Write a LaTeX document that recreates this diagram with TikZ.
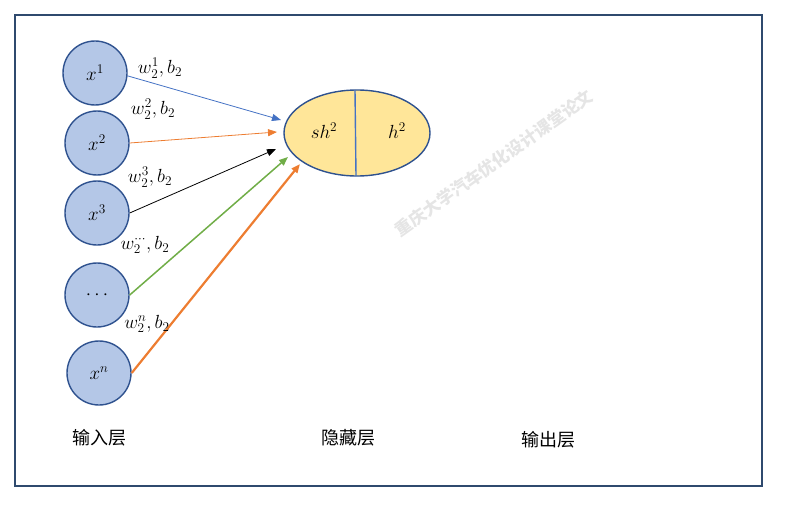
\RequirePackage{fix-cm}
\documentclass[tikz,border=0pt]{standalone}
\usepackage{fontspec}
\newfontfamily\cjk{Noto Sans CJK SC}
\usetikzlibrary{arrows.meta, positioning}
\definecolor{frameblue}{HTML}{2F4A6E}
\definecolor{nodeedge}{HTML}{2F528F}
\definecolor{nodefill}{HTML}{B4C7E7}
\definecolor{hidfill}{HTML}{FFE699}
\definecolor{ablue}{HTML}{4472C4}
\definecolor{aorange}{HTML}{ED7D31}
\definecolor{agreen}{HTML}{70AD47}
\tikzset{
  innode/.style = {circle, draw=nodeedge, line width=1.4pt, fill=nodefill, minimum size=64pt, inner sep=0pt, font=\fontsize{19}{21}\selectfont},
  wlabel/.style = {font=\fontsize{19}{21}\selectfont, inner sep=0pt},
  layer/.style = {font=\cjk\fontsize{18}{21}\selectfont},
  conn/.style = {-{Triangle[length=9pt, width=7pt]}},
}
\begin{document}
\begin{tikzpicture}[x=1pt, y=-1pt]
\useasboundingbox (0, 0) rectangle (789, 508);
\draw[frameblue, line width=1.2pt] (15, 15) rectangle (762, 486);
% watermark
\node[text=gray!20, rotate=35.5, font=\cjk\bfseries\fontsize{17}{20}\selectfont] at (494, 163) {重庆大学汽车优化设计课堂论文};
% input layer
\node[innode] (x1) at (95, 73) {$x^1$};
\node[innode] (x2) at (97, 143) {$x^2$};
\node[innode] (x3) at (97, 213) {$x^3$};
\node[innode] (xd) at (97, 295) {$\cdots$};
\node[innode] (xn) at (99, 373) {$x^n$};
% hidden layer
\draw[nodeedge, line width=1.4pt, fill=hidfill] (357, 133) ellipse [x radius=73, y radius=43];
\coordinate (htop) at (355, 90);
\coordinate (hbot) at (356, 176);
\draw[ablue, line width=1.4pt] (htop) -- (hbot);
\node[wlabel] (sh) at (324, 131) {$sh^2$};
\node[wlabel] (h) at (397, 131) {$h^2$};
% arrow ends
\coordinate (t1) at (281, 120);
\coordinate (t2) at (277, 132);
\coordinate (t3) at (276, 149);
\coordinate (t4) at (288, 157);
\coordinate (t5) at (300, 164);
\draw[conn, ablue, line width=0.8pt] (x1.-5) -- (t1);
\draw[conn, aorange, line width=0.8pt] (x2.east) -- (t2);
\draw[conn, black, line width=0.8pt] (x3.east) -- (t3);
\draw[conn, agreen, line width=1.5pt] (xd.east) -- (t4);
\draw[conn, aorange, line width=2.2pt] (xn.east) -- (t5);
% weights
\node[wlabel] (w1) at (160, 68) {$w_2^1, b_2$};
\node[wlabel] (w2) at (153, 109) {$w_2^2, b_2$};
\node[wlabel] (w3) at (150, 177) {$w_2^3, b_2$};
\node[wlabel] (wd) at (145, 245) {$w_2^{\cdots}, b_2$};
\node[wlabel] (wn) at (147, 324) {$w_2^n, b_2$};
% layer names
\node[layer] (lin) at (99, 438) {输入层};
\node[layer] (lhid) at (348, 438) {隐藏层};
\node[layer] (lout) at (548, 440) {输出层};
\end{tikzpicture}
\end{document}
